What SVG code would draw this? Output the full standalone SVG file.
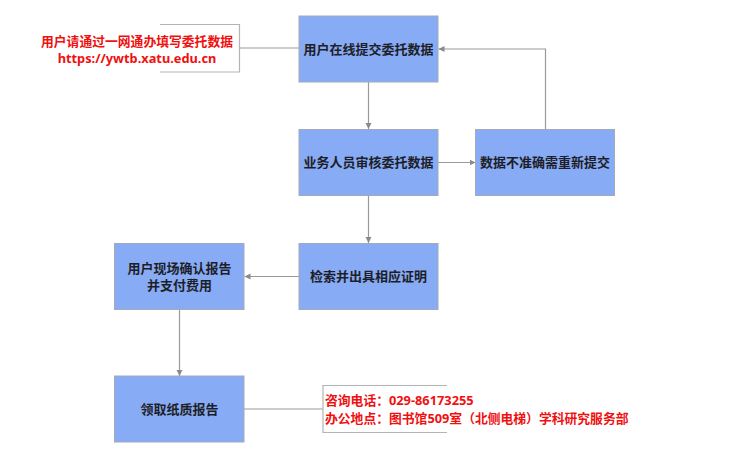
<svg xmlns="http://www.w3.org/2000/svg" width="734" height="466" viewBox="0 0 734 466">
<style>
.box{fill:#87abf5;stroke:#a3aab8;stroke-width:1}
.t{font-family:"Noto Sans","Noto Sans CJK SC",sans-serif;font-size:13px;font-weight:bold;fill:#1e1e28;text-anchor:middle}
.r{font-family:"Noto Sans","Noto Sans CJK SC",sans-serif;font-size:12.8px;font-weight:bold;fill:#f01010}
.c{fill:none;stroke:#9a9a9a;stroke-width:1.2}
.br{fill:none;stroke:#b4b4b4;stroke-width:1.2}
</style>
<defs>
<marker id="a" markerWidth="8" markerHeight="8" refX="6" refY="3" orient="auto" markerUnits="userSpaceOnUse">
<path d="M0,0 L6,3 L0,6 Z" fill="#8a8a8a"/>
</marker>
</defs>
<rect width="734" height="466" fill="#ffffff"/>
<g id="connectors">
<path class="c" d="M240,48 H299"/>
<path class="c" d="M368.5,82 V129" marker-end="url(#a)"/>
<path class="c" d="M438,162.5 H475.5" marker-end="url(#a)"/>
<path class="c" d="M545.5,129 V49 H438.5" marker-end="url(#a)"/>
<path class="c" d="M368.5,196 V243" marker-end="url(#a)"/>
<path class="c" d="M299,276.5 H244.5" marker-end="url(#a)"/>
<path class="c" d="M179.5,309.5 V376" marker-end="url(#a)"/>
<path class="c" d="M244,409 H323"/>
</g>
<g id="note1">
<path class="br" d="M160,24.5 H239.5 V72 H160"/>
<text class="r" x="137" y="46" text-anchor="middle">用户请通过一网通办填写委托数据</text>
<text class="r" x="137" y="62.5" text-anchor="middle">https://ywtb.xatu.edu.cn</text>
</g>
<g id="n1">
<rect class="box" x="299" y="16" width="139" height="66"/>
<text class="t" x="368.5" y="53.5">用户在线提交委托数据</text>
</g>
<g id="n2">
<rect class="box" x="299" y="129.5" width="139" height="66"/>
<text class="t" x="368.5" y="167">业务人员审核委托数据</text>
</g>
<g id="n3">
<rect class="box" x="475.5" y="129.5" width="139" height="66"/>
<text class="t" x="545" y="167">数据不准确需重新提交</text>
</g>
<g id="n4">
<rect class="box" x="299" y="243.5" width="139" height="66"/>
<text class="t" x="368.5" y="281">检索并出具相应证明</text>
</g>
<g id="n5">
<rect class="box" x="114.5" y="243.5" width="129.5" height="66"/>
<text class="t" x="179.5" y="273">用户现场确认报告</text>
<text class="t" x="179.5" y="290">并支付费用</text>
</g>
<g id="n6">
<rect class="box" x="114.5" y="376" width="129.5" height="66"/>
<text class="t" x="179.5" y="413.5">领取纸质报告</text>
</g>
<g id="note2">
<path class="br" d="M447,385.5 H323 V432.5 H447"/>
<text class="r" x="325" y="405">咨询电话：029-86173255</text>
<text class="r" x="325" y="423">办公地点：图书馆509室（北侧电梯）学科研究服务部</text>
</g>
</svg>
